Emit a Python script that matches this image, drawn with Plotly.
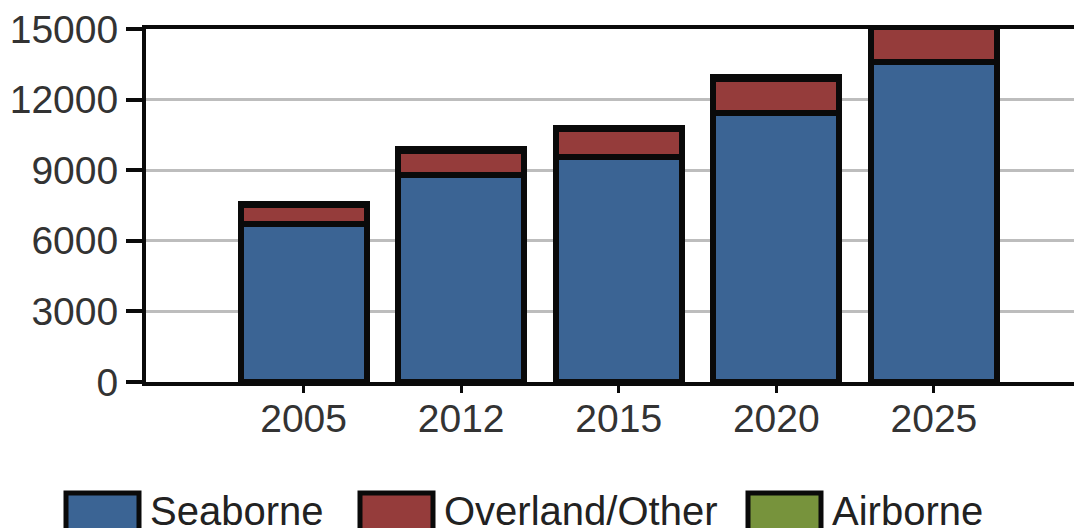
import plotly.graph_objects as go

# datos
years = ["2005", "2012", "2015", "2020", "2025"]
seaborne = [6700, 8780, 9580, 11430, 13590]
overland = [810, 1050, 1160, 1460, 1500]
airborne = [50, 50, 50, 50, 50]

series_names = ["Seaborne", "Overland/Other", "Airborne"]
series_colors = ["#3b6494", "#953c3b", "#77933c"]

y_ticks = [0, 3000, 6000, 9000, 12000, 15000]
y_labels = [str(v) for v in y_ticks]

# la pagina deja un pequeño margen en el body, se compensa aqui
OFF = 8
W, H = 1082 - OFF, 528 - OFF
L, R, T, B = 138, 0, 18, 146
PW, PH = W - L - R, H - T - B

def px_x(p):
    return (p - OFF - L) / PW

def px_y(p):
    return (H - B - (p - OFF)) / PH

fig = go.Figure()
for name, vals, col in zip(series_names, [seaborne, overland, airborne], series_colors):
    fig.add_trace(go.Bar(
        x=years, y=vals, name=name,
        marker=dict(color=col, line=dict(color="#0a0a0a", width=6)),
        width=0.8,
        showlegend=False,
    ))

# leyenda dibujada a mano (cajas grandes como en el original, cortadas abajo)
box_left = [66, 360, 748]
text_left = [148, 442, 830]
for xb, xt, name, col in zip(box_left, text_left, series_names, series_colors):
    fig.add_shape(type="rect", xref="paper", yref="paper",
                  x0=px_x(xb), x1=px_x(xb + 73), y0=px_y(534), y1=px_y(494),
                  fillcolor=col, line=dict(color="#0a0a0a", width=5))
    fig.add_annotation(x=px_x(xt), y=px_y(512), xref="paper", yref="paper",
                       text=name, showarrow=False, xanchor="left", yanchor="middle",
                       font=dict(size=40, color="#222"))

fig.update_layout(
    barmode="stack",
    width=W, height=H,
    margin=dict(l=L, r=R, t=T, b=B),
    plot_bgcolor="white", paper_bgcolor="white",
    font=dict(family="Liberation Sans, Arial, sans-serif", size=39, color="#333"),
)
fig.update_xaxes(
    type="category", range=[-1.0, 4.94],
    showline=True, linecolor="#0a0a0a", linewidth=4, mirror=True,
    ticks="outside", ticklen=7, tickwidth=3, tickcolor="#0a0a0a",
    ticklabelstandoff=-8,
    showgrid=False,
)
fig.update_yaxes(
    range=[0, 15000], tickvals=y_ticks, ticktext=y_labels,
    showline=True, linecolor="#0a0a0a", linewidth=4,
    ticks="outside", ticklen=16, tickwidth=4, tickcolor="#0a0a0a",
    ticklabeloverflow="allow",
    showgrid=True, gridcolor="#bdbdbd", gridwidth=3,
    zeroline=False,
)

fig.write_html("out.html")
